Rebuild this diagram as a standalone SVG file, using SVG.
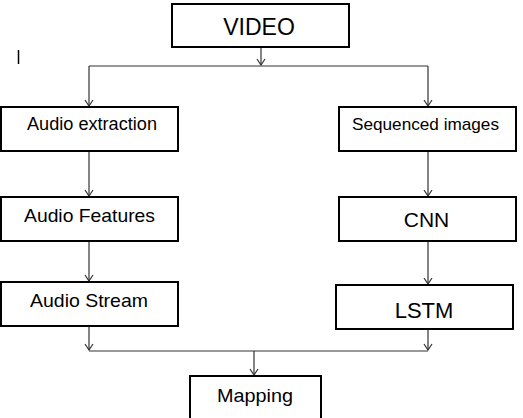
<svg xmlns="http://www.w3.org/2000/svg" width="523" height="418" viewBox="0 0 523 418">
  <style>
    .box { fill: #ffffff; stroke: #000000; stroke-width: 2; }
    .lbl { font-family: "Liberation Sans", Arial, sans-serif; fill: #000000; text-anchor: middle; }
    .wire { fill: none; stroke: #333333; stroke-width: 1.2; }
  </style>
  <defs>
    <!-- open V arrowhead, tip on the +x axis so orient="auto" follows the line -->
    <marker id="arrow" viewBox="0 0 8 10" refX="7" refY="5" markerWidth="8" markerHeight="10" markerUnits="userSpaceOnUse" orient="auto">
      <path d="M1,1 L7,5 L1,9" fill="none" stroke="#333333" stroke-width="1.2"/>
    </marker>
  </defs>

  <rect width="523" height="418" fill="#ffffff"/>

  <!-- stray stroke at left -->
  <line x1="18.5" y1="50" x2="18.5" y2="64" stroke="#000000" stroke-width="1.5"/>

  <g id="connectors">
    <line class="wire" x1="261" y1="48" x2="261" y2="65" marker-end="url(#arrow)"/>
    <line class="wire" x1="89" y1="66" x2="428" y2="66"/>
    <line class="wire" x1="89" y1="66" x2="89" y2="106" marker-end="url(#arrow)"/>
    <line class="wire" x1="428" y1="66" x2="428" y2="106" marker-end="url(#arrow)"/>
    <line class="wire" x1="89" y1="152" x2="89" y2="196" marker-end="url(#arrow)"/>
    <line class="wire" x1="428" y1="152" x2="428" y2="196" marker-end="url(#arrow)"/>
    <line class="wire" x1="89" y1="242" x2="89" y2="281" marker-end="url(#arrow)"/>
    <line class="wire" x1="428" y1="242" x2="428" y2="284" marker-end="url(#arrow)"/>
    <line class="wire" x1="89" y1="327" x2="89" y2="350" marker-end="url(#arrow)"/>
    <line class="wire" x1="428" y1="330" x2="428" y2="350" marker-end="url(#arrow)"/>
    <line class="wire" x1="89" y1="351" x2="428" y2="351"/>
    <line class="wire" x1="254" y1="351" x2="254" y2="375" marker-end="url(#arrow)"/>
  </g>

  <g id="video">
    <rect class="box" x="172" y="4" width="177" height="43"/>
    <text class="lbl" x="259" y="35" font-size="23">VIDEO</text>
  </g>

  <g id="audio-extraction">
    <rect class="box" x="1" y="107" width="177" height="44"/>
    <text class="lbl" x="92" y="129.5" font-size="17.5" textLength="130" lengthAdjust="spacingAndGlyphs">Audio extraction</text>
  </g>

  <g id="sequenced-images">
    <rect class="box" x="339" y="107" width="177" height="44"/>
    <text class="lbl" x="425.5" y="129.5" font-size="17" textLength="147" lengthAdjust="spacingAndGlyphs">Sequenced images</text>
  </g>

  <g id="audio-features">
    <rect class="box" x="1" y="197" width="177" height="44"/>
    <text class="lbl" x="89.5" y="222" font-size="18.5" textLength="131" lengthAdjust="spacingAndGlyphs">Audio Features</text>
  </g>

  <g id="cnn">
    <rect class="box" x="339" y="197" width="177" height="44"/>
    <text class="lbl" x="426.5" y="226.5" font-size="21">CNN</text>
  </g>

  <g id="audio-stream">
    <rect class="box" x="1" y="282" width="177" height="44"/>
    <text class="lbl" x="89" y="307" font-size="18.5" textLength="118" lengthAdjust="spacingAndGlyphs">Audio Stream</text>
  </g>

  <g id="lstm">
    <rect class="box" x="336" y="285" width="177" height="44"/>
    <text class="lbl" x="424" y="317.5" font-size="22">LSTM</text>
  </g>

  <g id="mapping">
    <rect class="box" x="190" y="376" width="131" height="50"/>
    <text class="lbl" x="255" y="401.5" font-size="19" textLength="76" lengthAdjust="spacingAndGlyphs">Mapping</text>
  </g>
</svg>
